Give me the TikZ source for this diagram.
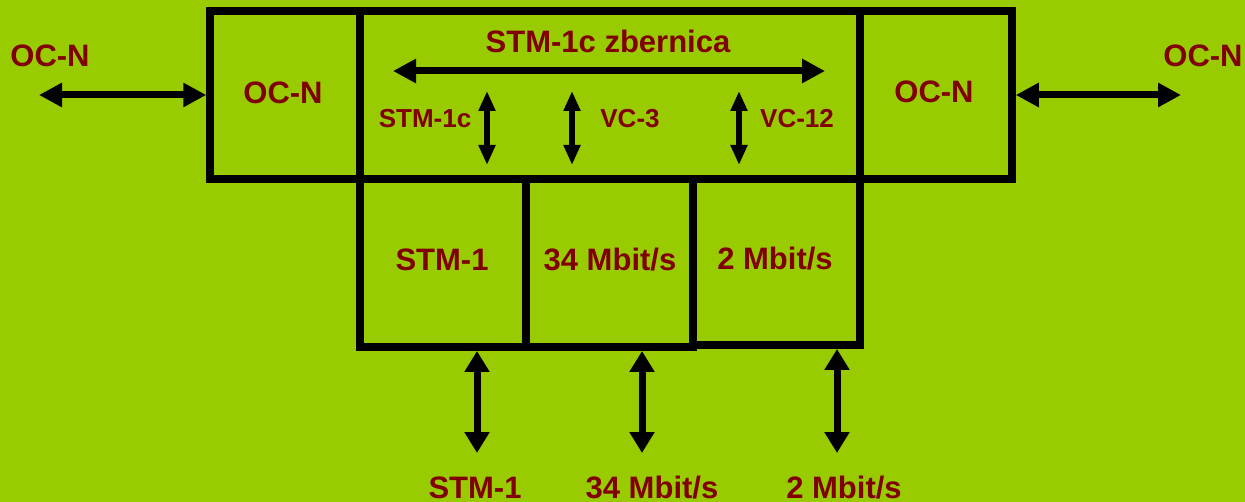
\documentclass[tikz,border=0pt]{standalone}
\usepackage{fontspec}
\setmainfont{Liberation Sans}
\usetikzlibrary{arrows.meta}
\definecolor{bg}{HTML}{99CC00}
\definecolor{txt}{HTML}{800000}
\tikzset{
  box/.style={draw=black, line width=7.5pt, rectangle, inner sep=0pt},
  big/.style={text=txt, font=\bfseries\fontsize{31}{37}\selectfont, anchor=base, inner sep=0pt},
  small/.style={text=txt, font=\bfseries\fontsize{26}{31}\selectfont, anchor=base, inner sep=0pt},
  bigarrow/.style={line width=7pt, {Triangle[length=23pt,width=23pt]}-{Triangle[length=23pt,width=23pt]}},
  midarrow/.style={line width=6pt, {Triangle[length=20pt,width=16pt]}-{Triangle[length=20pt,width=16pt]}},
  botarrow/.style={line width=7pt, {Triangle[length=21pt,width=24pt]}-{Triangle[length=21pt,width=24pt]}}
}
\begin{document}
\begin{tikzpicture}[x=1pt, y=-1pt]
\fill[bg] (0,0) rectangle (1245,502);
\useasboundingbox (0,0) rectangle (1245,502);
% boxes
\node[box, minimum width=150pt, minimum height=168pt] (ocl) at (285,95) {};
\node[box, minimum width=500pt, minimum height=168pt] (bus) at (610,95) {};
\node[box, minimum width=152pt, minimum height=168pt] (ocr) at (936,95) {};
\node[box, minimum width=166pt, minimum height=168pt] (stm) at (443,263) {};
\node[box, minimum width=167pt, minimum height=168pt] (m34) at (609.5,263) {};
\node[box, minimum width=167pt, minimum height=166pt] (m2) at (776.5,262) {};
% texts
\node[big] (tocl) at (283,104) {OC-N};
\node[big] (tocr) at (934,103) {OC-N};
\node[big] (tol) at (50,67) {OC-N};
\node[big] (tor) at (1203,67) {OC-N};
\node[big] (tbus) at (608,53) {STM-1c zbernica};
\node[small] (tstmc) at (425,128) {STM-1c};
\node[small] (tvc3) at (630,128) {VC-3};
\node[small] (tvc12) at (797,128) {VC-12};
\node[big] (tstm) at (442,271) {STM-1};
\node[big] (tm34) at (610,271) {34 Mbit/s};
\node[big] (tm2) at (775,270) {2 Mbit/s};
\node[big] (bstm) at (475,498) {STM-1};
\node[big] (bm34) at (652,498) {34 Mbit/s};
\node[big] (bm2) at (844,498) {2 Mbit/s};
% coordinates
\coordinate (l0) at (39,95);
\coordinate (r0) at (1181,95);
\coordinate (busl) at (393,71);
\coordinate (busr) at (825,71);
\coordinate (a1t) at (487,91); \coordinate (a1b) at (487,165);
\coordinate (a2t) at (572,91); \coordinate (a2b) at (572,165);
\coordinate (a3t) at (739,91); \coordinate (a3b) at (739,165);
\coordinate (b1t) at (477,351); \coordinate (b1b) at (477,453);
\coordinate (b2t) at (642,351); \coordinate (b2b) at (642,453);
\coordinate (b3t) at (837,349); \coordinate (b3b) at (837,453);
% arrows
\draw[bigarrow] (l0) -- (ocl.west);
\draw[bigarrow] (ocr.east) -- (r0);
\draw[bigarrow] (busl) -- (busr);
\draw[midarrow] (a1t) -- (a1b);
\draw[midarrow] (a2t) -- (a2b);
\draw[midarrow] (a3t) -- (a3b);
\draw[botarrow] (b1t) -- (b1b);
\draw[botarrow] (b2t) -- (b2b);
\draw[botarrow] (b3t) -- (b3b);
\end{tikzpicture}
\end{document}
